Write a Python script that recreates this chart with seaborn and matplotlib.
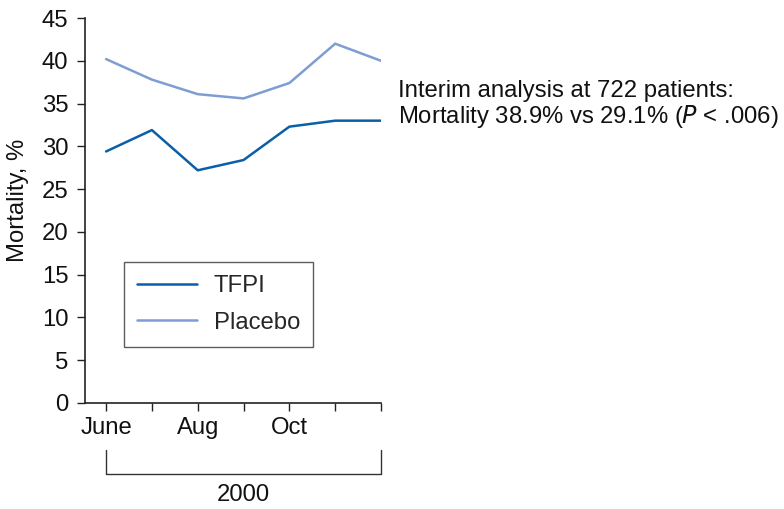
import pandas as pd
import matplotlib
matplotlib.use("Agg")
import matplotlib.pyplot as plt
import seaborn as sns

# values (monthly mortality, %)
months = ["June", "", "Aug", "", "Oct", "", ""]
tfpi = [29.4, 31.9, 27.2, 28.4, 32.3, 33.0, 33.0]
placebo = [40.2, 37.8, 36.1, 35.6, 37.4, 42.0, 40.0]
series_names = ["TFPI", "Placebo"]
series_colors = ["#0b5ea8", "#7d9dd3"]
y_ticks = list(range(0, 50, 5))
year_label = "2000"
note = "Interim analysis at 722 patients:\nMortality 38.9% vs 29.1% ($\\it{P}$ < .006)"

idx = list(range(len(months)))
df = pd.DataFrame({
    "x": idx * 2,
    "mortality": tfpi + placebo,
    "group": [series_names[0]] * len(idx) + [series_names[1]] * len(idx),
})

FS = 17.2

sns.set_theme(style="ticks")
plt.rcParams["font.family"] = ["Liberation Sans", "DejaVu Sans"]

fig = plt.figure(figsize=(7.84, 5.09), dpi=100)
ax = fig.add_axes([0.1084, 0.2083, 0.3776, 0.7563])

sns.lineplot(data=df, x="x", y="mortality", hue="group", hue_order=series_names,
             palette=series_colors, linewidth=1.8, ax=ax)

ax.set_xlim(-0.46, 6.0)
ax.set_ylim(0, 45)
ax.set_yticks(y_ticks)
ax.set_xticks(idx)
ax.set_xticklabels(months)
ax.tick_params(axis="both", labelsize=FS, colors="#222222", length=6, width=1,
               labelcolor="#111111")
ax.tick_params(axis="y", pad=6)
ax.tick_params(axis="x", pad=4)
ax.set_xlabel("")
ax.set_ylabel("Mortality, %", fontsize=FS, color="#111111")
ax.yaxis.set_label_coords(-0.19, 0.527)
sns.despine(ax=ax)
for s in ["left", "bottom"]:
    ax.spines[s].set_color("#222222")
    ax.spines[s].set_linewidth(1.2)

leg = ax.legend(loc="upper left", bbox_to_anchor=(0.132, 0.366), fontsize=FS,
                frameon=True, fancybox=False, edgecolor="#333333", borderaxespad=0,
                handlelength=2.5, handletextpad=0.7, borderpad=0.55, labelspacing=0.6)
leg.get_frame().set_linewidth(1.0)

# year bracket under the month labels
tr = ax.get_xaxis_transform()
ax.plot([0, 0, 6, 6], [-0.122, -0.184, -0.184, -0.122], color="#333333",
        linewidth=1.0, transform=tr, clip_on=False)
ax.text(3, -0.24, year_label, transform=tr, ha="center", va="center",
        fontsize=FS, color="#111111")

fig.text(398 / 784, 1 - 105 / 509, note, ha="left", va="center", fontsize=FS,
         color="#111111", linespacing=1.1)

fig.savefig("out.png", dpi=100)
